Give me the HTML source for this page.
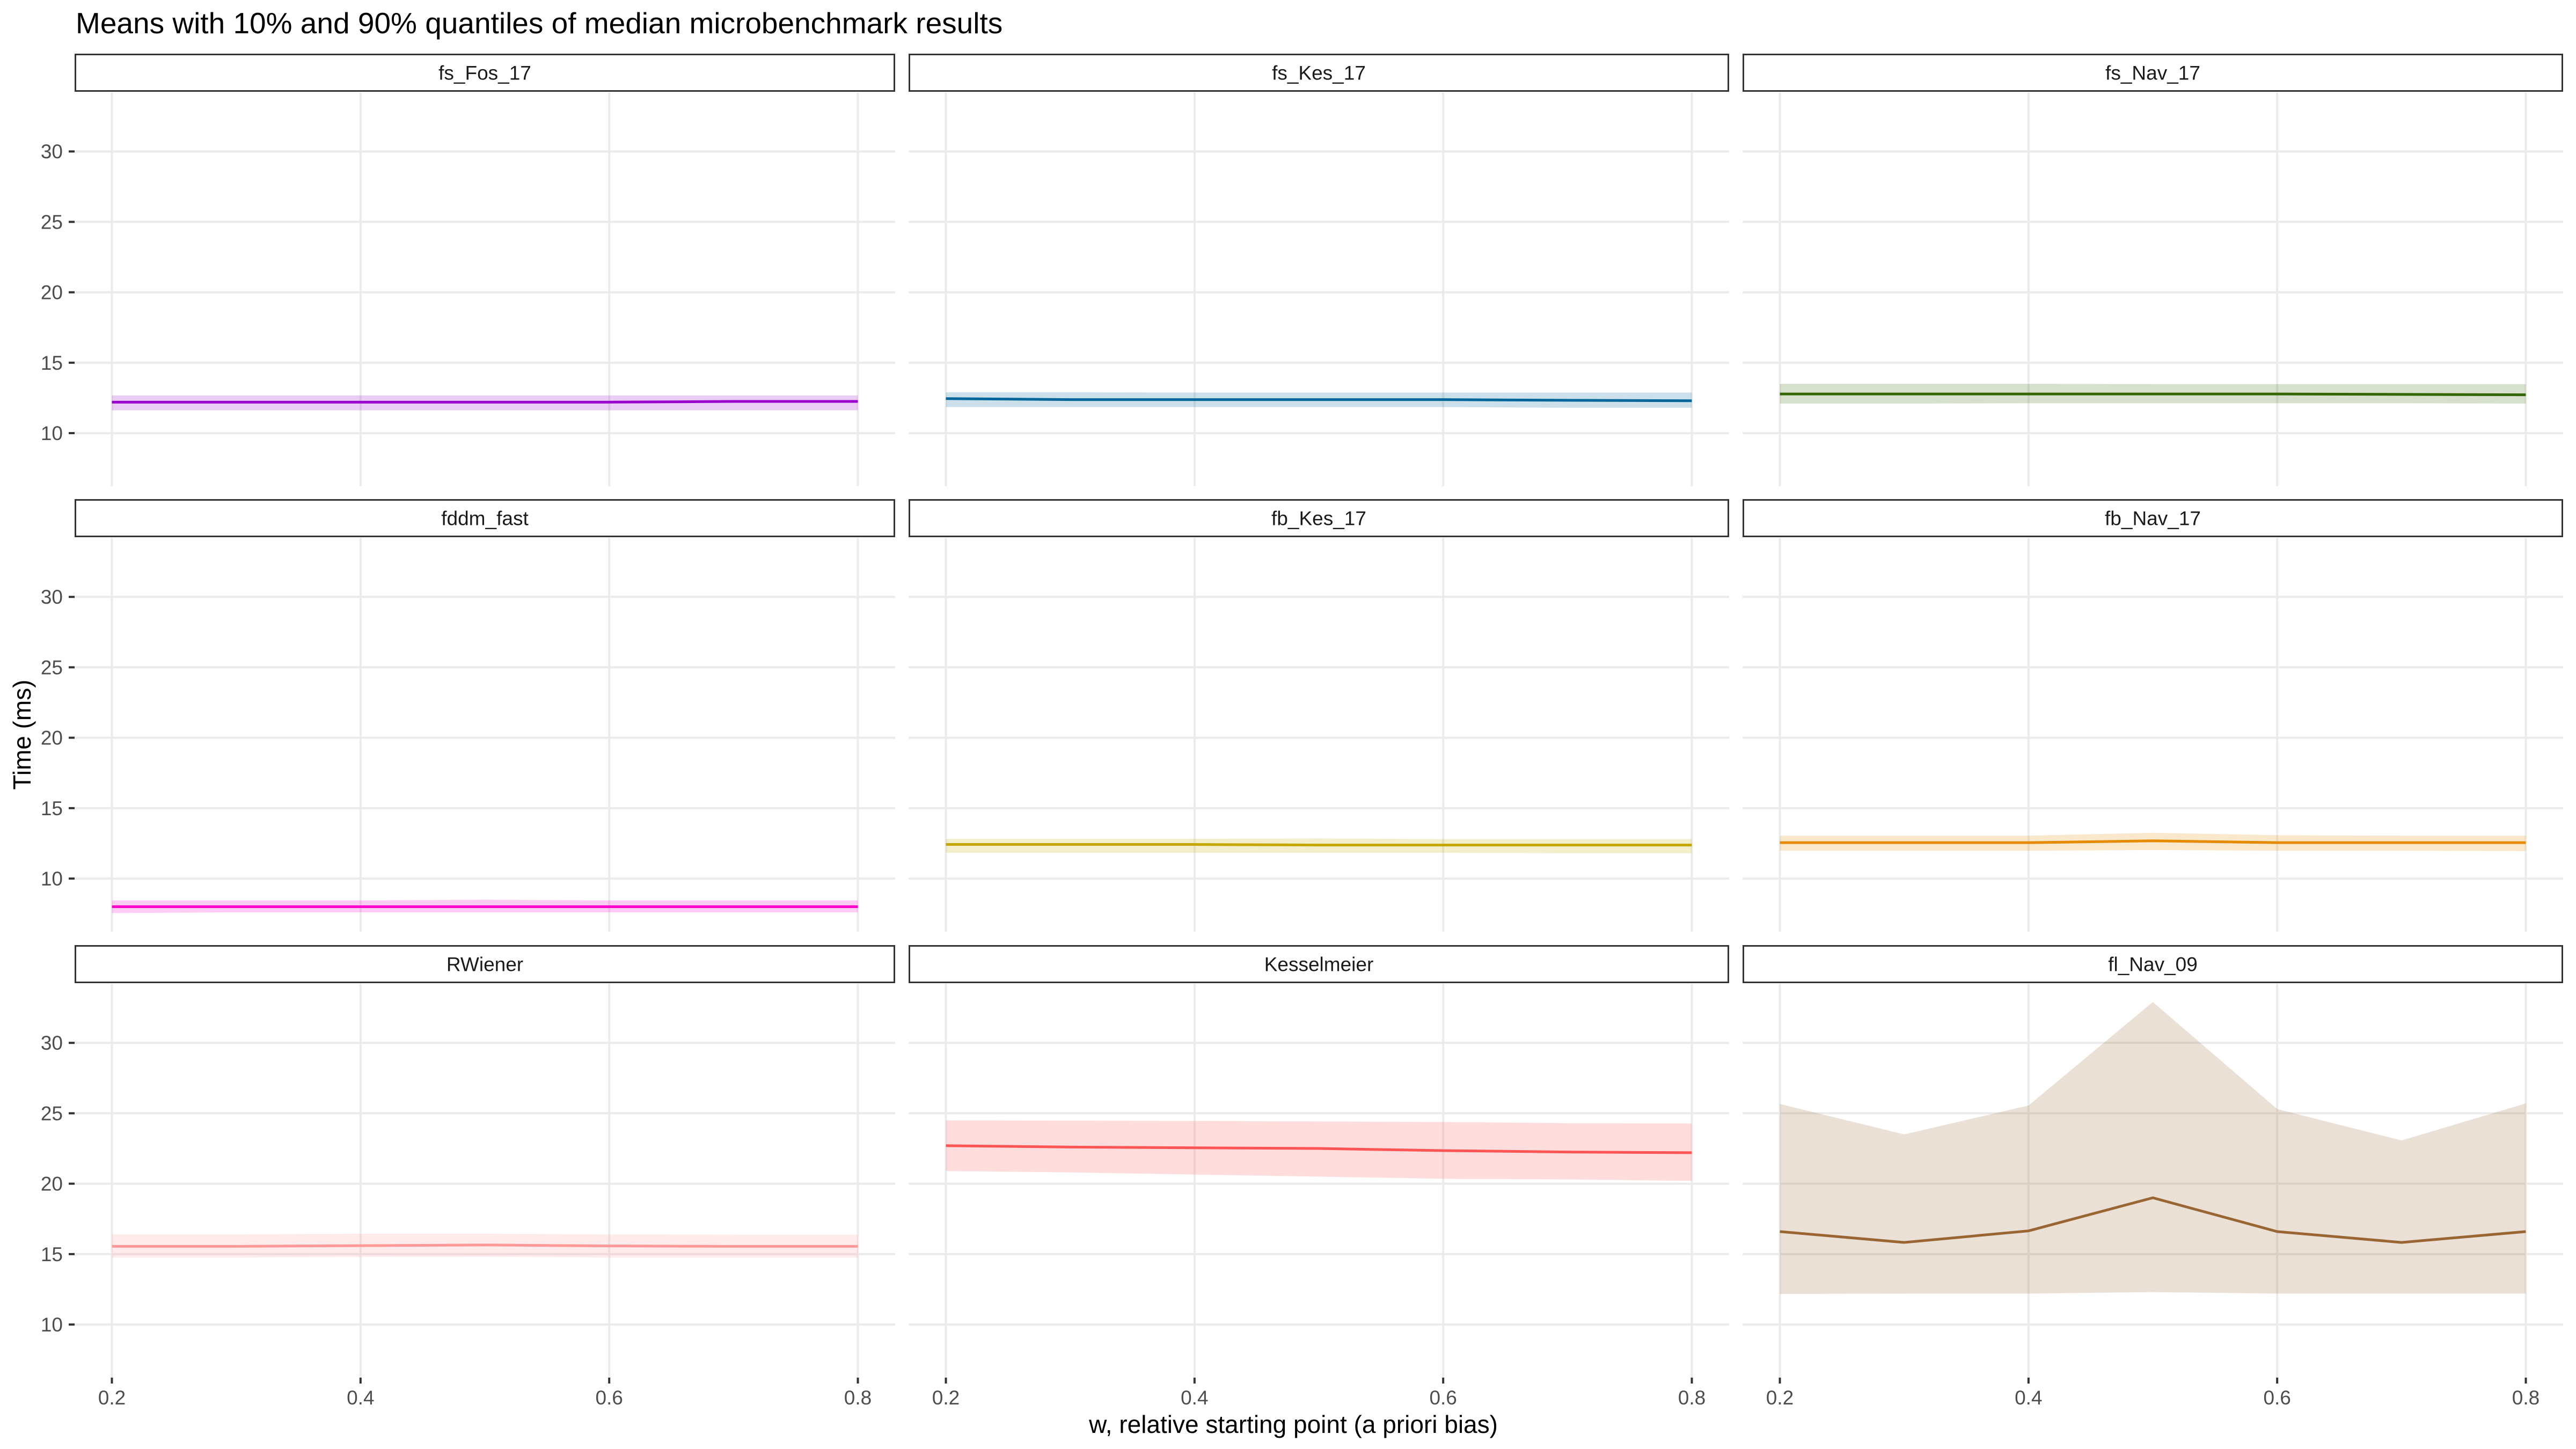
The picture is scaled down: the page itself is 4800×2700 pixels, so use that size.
<!DOCTYPE html>
<html><head><meta charset="utf-8">
<style>
html,body{margin:0;padding:0;background:#fff;}
svg{display:block;}
text{font-family:"Liberation Sans",Arial,sans-serif;}
</style></head>
<body>
<svg id="chart" width="4800" height="2700" viewBox="0 0 4800 2700" xmlns="http://www.w3.org/2000/svg">
<rect x="0" y="0" width="4800" height="2700" fill="#fff"/>
<text x="141" y="62" font-size="55" fill="#000">Means with 10% and 90% quantiles of median microbenchmark results</text>
<text x="2410" y="2670" font-size="46" text-anchor="middle" fill="#000">w, relative starting point (a priori bias)</text>
<text transform="translate(57,1369) rotate(-90)" font-size="46" text-anchor="middle" fill="#000">Time (ms)</text>
<g id="panels"></g>
</svg>
<script>
const xValues = [0.2, 0.3, 0.4, 0.5, 0.6, 0.7, 0.8];
const xTicks = [0.2, 0.4, 0.6, 0.8];
const xTickLabels = ["0.2", "0.4", "0.6", "0.8"];
const yTicks = [10, 15, 20, 25, 30];
const yTickLabels = ["10", "15", "20", "25", "30"];
const panelNames = ["fs_Fos_17","fs_Kes_17","fs_Nav_17","fddm_fast","fb_Kes_17","fb_Nav_17","RWiener","Kesselmeier","fl_Nav_09"];
const panelColors = ["#9900CC","#006699","#336600","#FF00CC","#C4A800","#E68A00","#FF9999","#FF5555","#996633"];
const meanFosFs = [12.2,12.2,12.2,12.2,12.2,12.25,12.25];
const lowFosFs  = [11.62,11.62,11.62,11.62,11.62,11.62,11.62];
const highFosFs = [12.68,12.68,12.68,12.68,12.68,12.68,12.68];
const meanKesFs = [12.45,12.38,12.38,12.38,12.38,12.33,12.3];
const lowKesFs  = [11.85,11.85,11.85,11.85,11.85,11.8,11.8];
const highKesFs = [12.9,12.9,12.88,12.88,12.88,12.88,12.88];
const meanNavFs = [12.78,12.78,12.78,12.78,12.78,12.75,12.72];
const lowNavFs  = [12.1,12.1,12.12,12.12,12.12,12.12,12.1];
const highNavFs = [13.5,13.5,13.5,13.48,13.48,13.48,13.48];
const meanFddm = [8.0,8.0,8.0,8.0,8.0,8.0,8.0];
const lowFddm  = [7.55,7.6,7.6,7.6,7.6,7.6,7.6];
const highFddm = [8.45,8.45,8.45,8.5,8.45,8.45,8.45];
const meanKesFb = [12.42,12.42,12.42,12.38,12.38,12.38,12.38];
const lowKesFb  = [11.83,11.83,11.83,11.83,11.83,11.8,11.8];
const highKesFb = [12.82,12.82,12.82,12.85,12.8,12.8,12.8];
const meanNavFb = [12.55,12.55,12.55,12.68,12.55,12.55,12.55];
const lowNavFb  = [11.98,11.98,11.98,12.02,11.98,11.98,11.95];
const highNavFb = [13.05,13.05,13.05,13.25,13.08,13.05,13.05];
const meanRW = [15.55,15.55,15.6,15.65,15.58,15.55,15.55];
const lowRW  = [14.75,14.75,14.8,14.82,14.75,14.75,14.75];
const highRW = [16.4,16.4,16.45,16.45,16.4,16.38,16.38];
const meanKessel = [22.7,22.6,22.55,22.5,22.35,22.25,22.2];
const lowKessel  = [20.9,20.8,20.65,20.5,20.35,20.3,20.2];
const highKessel = [24.5,24.48,24.46,24.42,24.38,24.3,24.28];
const meanFl = [16.6,15.83,16.65,19.0,16.6,15.83,16.6];
const lowFl  = [12.17,12.2,12.2,12.3,12.2,12.2,12.2];
const highFl = [25.66,23.5,25.55,32.9,25.3,23.07,25.7];
const allMeans = [meanFosFs,meanKesFs,meanNavFs,meanFddm,meanKesFb,meanNavFb,meanRW,meanKessel,meanFl];
const allLows = [lowFosFs,lowKesFs,lowNavFs,lowFddm,lowKesFb,lowNavFb,lowRW,lowKessel,lowFl];
const allHighs = [highFosFs,highKesFs,highNavFs,highFddm,highKesFb,highNavFb,highRW,highKessel,highFl];

const NS = "http://www.w3.org/2000/svg";
const g = document.getElementById("panels");
const colLeft = [139, 1693, 3247], panelW = 1529;
const rowStrip = [100, 930, 1761], stripH = 71, panelH = 734;
const xMin = 0.17, xMax = 0.83, yMin = 6.23, yMax = 34.2;
function mk(tag, attrs, parent){const e=document.createElementNS(NS,tag);for(const k in attrs)e.setAttribute(k,attrs[k]);(parent||g).appendChild(e);return e;}

for(let i=0;i<9;i++){
  const r=Math.floor(i/3), c=i%3;
  const L=colLeft[c], T=rowStrip[r]+stripH+1;
  const xs=v=>L+(v-xMin)/(xMax-xMin)*panelW;
  const ys=v=>T+panelH-(v-yMin)/(yMax-yMin)*panelH;
  const pg=mk("g",{});
  
  
  const st=mk("rect",{x:L+1.5,y:rowStrip[r]+1.5,width:panelW-3,height:stripH-3,fill:"#fff",stroke:"#333","stroke-width":3},pg);
  
  
  const stt=mk("text",{x:L+panelW/2,y:rowStrip[r]+stripH/2+13,"font-size":37,"text-anchor":"middle",fill:"#1a1a1a"},pg);
  stt.textContent=panelNames[i];
  
  
  yTicks.forEach(v=>{
    const gl=mk("line",{x1:L,x2:L+panelW,y1:ys(v),y2:ys(v),stroke:"#EBEBEB","stroke-width":4},pg);
    
    
  });
  xTicks.forEach(v=>{
    const gl=mk("line",{x1:xs(v),x2:xs(v),y1:T,y2:T+panelH,stroke:"#EBEBEB","stroke-width":4},pg);
    
    
  });
  const hi=allHighs[i], lo=allLows[i], mn=allMeans[i];
  let pts=xValues.map((x,k)=>xs(x)+","+ys(hi[k]));
  pts=pts.concat(xValues.slice().reverse().map((x,k)=>xs(x)+","+ys(lo[xValues.length-1-k])));
  const rib=mk("polygon",{points:pts.join(" "),fill:panelColors[i],"fill-opacity":0.2},pg);
  
  
  const ln=mk("polyline",{points:xValues.map((x,k)=>xs(x)+","+ys(mn[k])).join(" "),fill:"none",stroke:panelColors[i],"stroke-width":5,"stroke-linejoin":"round"},pg);
  
  
  if(c===0){
    yTicks.forEach((v,k)=>{
      const tk=mk("line",{x1:L-11,x2:L,y1:ys(v),y2:ys(v),stroke:"#333","stroke-width":4},pg);
      
      
      const tl=mk("text",{x:L-22,y:ys(v)+13,"font-size":37,"text-anchor":"end",fill:"#4D4D4D"},pg);
      tl.textContent=yTickLabels[k];
      
      
    });
  }
  if(r===2){
    xTicks.forEach((v,k)=>{
      const tk=mk("line",{x1:xs(v),x2:xs(v),y1:T+panelH,y2:T+panelH+11,stroke:"#333","stroke-width":4},pg);
      
      
      const tl=mk("text",{x:xs(v),y:T+panelH+50,"font-size":37,"text-anchor":"middle",fill:"#4D4D4D"},pg);
      tl.textContent=xTickLabels[k];
      
      
    });
  }
}
</script>
</body></html>
